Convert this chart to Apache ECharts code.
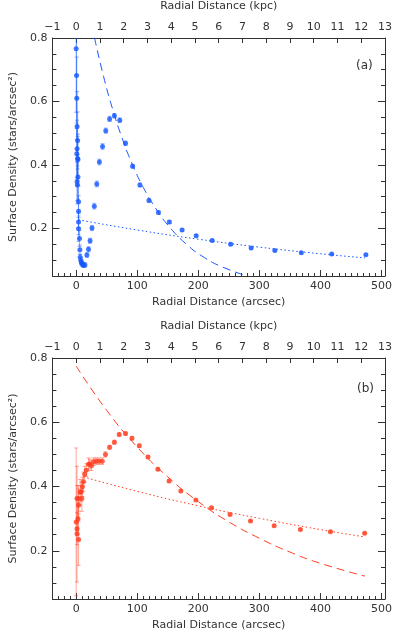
<!DOCTYPE html>
<html>
<head>
<meta charset="utf-8">
<script src="https://cdn.jsdelivr.net/npm/echarts@6/dist/echarts.min.js"></script>
<style>
html, body { margin: 0; padding: 0; background: #fff; }
#chart { width: 395px; height: 633px; }
</style>
</head>
<body>
<div id="chart"></div>
<script>
// 面板 (a)：半径 (arcsec)、面密度、误差
var aRadius = [0, 0.6, 1.0, 1.5, 2.4, 1.5, 1.0, 3.0, 2.4, 3.0, 1.5, 2.0, 3.9, 3.9, 3.9, 3.9, 5.5, 6.1, 6.6, 7.8,
    8.6, 10.2, 11.8, 14.4, 17.6, 20.2, 22.8, 25.9, 29.7, 33.8, 38.0, 43.2, 48.5, 54.8, 62.6, 71.4, 80.9, 92.5,
    104.4, 119.2, 134.8, 152.6, 173.5, 196.5, 222.7, 253.0, 286.5, 325.3, 368.7, 418.4, 474.4];
var aDensity = [0.766, 0.682, 0.610, 0.521, 0.477, 0.451, 0.435, 0.417, 0.420, 0.362, 0.347, 0.337, 0.284, 0.253,
    0.220, 0.199, 0.168, 0.133, 0.109, 0.099, 0.092, 0.088, 0.084, 0.085, 0.116, 0.134, 0.161, 0.201, 0.270,
    0.340, 0.409, 0.458, 0.508, 0.545, 0.555, 0.541, 0.468, 0.396, 0.337, 0.288, 0.250, 0.220, 0.195, 0.177,
    0.162, 0.150, 0.138, 0.130, 0.123, 0.119, 0.117];
var aError = [0.2, 0.15, 0.13, 0.11, 0.09, 0.09, 0.08, 0.08, 0.07, 0.07, 0.06, 0.06, 0.05, 0.05, 0.04, 0.04,
    0.025, 0.015, 0.01, 0.01, 0.008, 0.008, 0.007, 0.007, 0.007, 0.008, 0.008, 0.008, 0.009, 0.009, 0.009,
    0.009, 0.008, 0.008, 0.007, 0.007, 0.007, 0.006, 0.006, 0.005, 0.005, 0.005, 0.004, 0.004, 0.004, 0.004,
    0.003, 0.003, 0.003, 0.003, 0.003];
// 面板 (a) 拟合曲线
var aDashR = [30, 45, 60, 75, 90, 110, 130, 150, 180, 210, 240, 280];
var aDashV = [0.801, 0.678, 0.574, 0.486, 0.411, 0.329, 0.264, 0.211, 0.151, 0.108, 0.078, 0.050];
var aDotR = [4, 100, 200, 300, 400, 473];
var aDotV = [0.227, 0.195, 0.166, 0.141, 0.120, 0.107];

// 面板 (b)
var bRadius = [0, 1.4, 4.0, 1.4, 3.0, 4.0, 1.4, 4.0, 6.6, 9.3, 8.2, 10.2, 11.8, 14.0, 16.5, 20.2, 22.3, 25.0,
    28.6, 32.8, 37.5, 42.7, 48.0, 54.8, 62.6, 70.5, 80.9, 91.4, 103.4, 117.6, 133.8, 152.1, 171.4, 196.0,
    221.7, 252.0, 285.5, 324.2, 367.2, 416.4, 472.4];
var bDensity = [0.290, 0.253, 0.235, 0.269, 0.300, 0.342, 0.363, 0.363, 0.382, 0.363, 0.384, 0.399, 0.415,
    0.438, 0.451, 0.469, 0.470, 0.465, 0.477, 0.479, 0.479, 0.479, 0.500, 0.522, 0.538, 0.562, 0.565, 0.550,
    0.527, 0.492, 0.454, 0.417, 0.386, 0.358, 0.334, 0.313, 0.293, 0.278, 0.266, 0.259, 0.255];
var bError = [0.23, 0.15, 0.08, 0.05, 0.05, 0.05, 0.1, 0.04, 0.04, 0.04, 0.03, 0.03, 0.03, 0.025, 0.02, 0.02,
    0.015, 0.015, 0.012, 0.01, 0.01, 0.01, 0.008, 0.006, 0.006, 0.005, 0.005, 0.005, 0.005, 0.004, 0.004,
    0.004, 0.004, 0.003, 0.003, 0.003, 0.003, 0.003, 0.003, 0.003, 0.003];
var bDashR = [0, 50, 100, 150, 200, 250, 300, 350, 400, 473];
var bDashV = [0.775, 0.637, 0.523, 0.430, 0.353, 0.290, 0.239, 0.196, 0.161, 0.121];
var bDotR = [12, 100, 200, 300, 400, 473];
var bDotV = [0.430, 0.385, 0.340, 0.301, 0.266, 0.243];

// 刻度
var arcsecLabels = [0, 100, 200, 300, 400, 500];
var arcsecMinor = [-30, -20, -10, 10, 20, 30, 40, 50, 60, 70, 80, 90, 110, 120, 130, 140, 150, 160, 170, 180, 190,
    210, 220, 230, 240, 250, 260, 270, 280, 290, 310, 320, 330, 340, 350, 360, 370, 380, 390,
    410, 420, 430, 440, 450, 460, 470, 480, 490];
var densityLabels = [0.2, 0.4, 0.6, 0.8];
var densityMinor = [0.1, 0.15, 0.25, 0.3, 0.35, 0.45, 0.5, 0.55, 0.65, 0.7, 0.75];

var X_MIN = -38.9, X_MAX = 505.7, Y_MIN = 0.05, Y_MAX = 0.8;
var BLUE = '#1456ff', RED = '#ff3c1e';
var FONT = 'DejaVu Sans';
var TXT = { fontFamily: FONT, fontSize: 11, color: '#333' };

var chart = echarts.init(document.getElementById('chart'));

function zip(xs, ys) {
    return xs.map(function (x, i) { return [x, ys[i]]; });
}
function errData(xs, ys, es) {
    return xs.map(function (x, i) { return [x, ys[i] - es[i], ys[i] + es[i]]; });
}
// 误差棒
function errRender(color) {
    return function (params, api) {
        var x = api.value(0), lo = api.value(1), hi = api.value(2);
        var capTop = hi <= Y_MAX, capBot = lo >= Y_MIN;
        hi = Math.min(hi, Y_MAX);
        lo = Math.max(lo, Y_MIN);
        var p1 = api.coord([x, hi]), p2 = api.coord([x, lo]);
        var st = { stroke: color, lineWidth: 1 };
        var kids = [{ type: 'line', shape: { x1: p1[0], y1: p1[1], x2: p2[0], y2: p2[1] }, style: st }];
        if (capTop) kids.push({ type: 'line', shape: { x1: p1[0] - 2, y1: p1[1], x2: p1[0] + 2, y2: p1[1] }, style: st });
        if (capBot) kids.push({ type: 'line', shape: { x1: p2[0] - 2, y1: p2[1], x2: p2[0] + 2, y2: p2[1] }, style: st });
        return { type: 'group', children: kids };
    };
}

var grids = [], xAxes = [], yAxes = [], series = [];
var line = { show: true, onZero: false, lineStyle: { color: '#333', width: 1 } };
var noLine = { show: false, onZero: false };

function panel(g, top, r, d, e, dashR, dashV, dotR, dotV, color, errColor) {
    grids.push({ left: 42, top: top, width: 347, height: 241 });
    // 底部 arcsec 轴
    xAxes.push({
        type: 'value', gridIndex: g, position: 'bottom', min: X_MIN, max: X_MAX,
        axisLine: line, splitLine: { show: false },
        axisTick: { inside: true, length: 6, customValues: arcsecLabels, lineStyle: { color: '#333' } },
        axisLabel: Object.assign({ customValues: arcsecLabels, margin: 5 }, TXT),
        name: 'Radial Distance (arcsec)', nameLocation: 'middle', nameGap: 21, nameTextStyle: TXT
    });
    xAxes.push({
        type: 'value', gridIndex: g, position: 'bottom', min: X_MIN, max: X_MAX,
        axisLine: noLine, splitLine: { show: false }, axisLabel: { show: false },
        axisTick: { inside: true, length: 3, customValues: arcsecMinor, lineStyle: { color: '#333' } }
    });
    // 顶部 kpc 轴
    xAxes.push({
        type: 'value', gridIndex: g, position: 'top', min: -1, max: 13, interval: 1,
        axisLine: line, splitLine: { show: false },
        axisTick: { inside: true, length: 5, lineStyle: { color: '#333' } },
        axisLabel: Object.assign({
            margin: 5, formatter: function (v) { return String(v).replace('-', '\u2212'); }
        }, TXT),
        name: 'Radial Distance (kpc)', nameLocation: 'middle', nameGap: 26, nameTextStyle: TXT
    });
    // y 轴：左右主刻度 + 次刻度
    yAxes.push({
        type: 'value', gridIndex: g, position: 'left', min: Y_MIN, max: Y_MAX,
        axisLine: line, splitLine: { show: false },
        axisTick: { inside: true, length: 7, customValues: densityLabels, lineStyle: { color: '#333' } },
        axisLabel: Object.assign({ customValues: densityLabels, margin: 5 }, TXT),
        name: 'Surface Density (stars/arcsec\u00b2)', nameLocation: 'middle', nameGap: 30, nameTextStyle: TXT
    });
    yAxes.push({
        type: 'value', gridIndex: g, position: 'left', min: Y_MIN, max: Y_MAX,
        axisLine: noLine, splitLine: { show: false }, axisLabel: { show: false },
        axisTick: { inside: true, length: 4, customValues: densityMinor, lineStyle: { color: '#333' } }
    });
    yAxes.push({
        type: 'value', gridIndex: g, position: 'right', min: Y_MIN, max: Y_MAX,
        axisLine: line, splitLine: { show: false }, axisLabel: { show: false },
        axisTick: { inside: true, length: 7, customValues: densityLabels, lineStyle: { color: '#333' } }
    });
    yAxes.push({
        type: 'value', gridIndex: g, position: 'right', min: Y_MIN, max: Y_MAX,
        axisLine: noLine, splitLine: { show: false }, axisLabel: { show: false },
        axisTick: { inside: true, length: 4, customValues: densityMinor, lineStyle: { color: '#333' } }
    });
    var xi = g * 3, yi = g * 4;
    series.push({
        type: 'custom', xAxisIndex: xi, yAxisIndex: yi, renderItem: errRender(errColor),
        data: errData(r, d, e), encode: { x: 0, y: [1, 2] }, silent: true, z: 2
    });
    series.push({
        type: 'scatter', xAxisIndex: xi, yAxisIndex: yi, data: zip(r, d),
        symbolSize: 5, itemStyle: { color: color }, z: 3
    });
    series.push({
        type: 'line', xAxisIndex: xi, yAxisIndex: yi, data: zip(dashR, dashV), smooth: true,
        showSymbol: false, lineStyle: { color: color, width: 1, type: [8, 5] }, z: 4
    });
    series.push({
        type: 'line', xAxisIndex: xi, yAxisIndex: yi, data: zip(dotR, dotV), smooth: true,
        showSymbol: false, lineStyle: { color: color, width: 1, type: [1.5, 2.5] }, z: 4
    });
}

panel(0, 35, aRadius, aDensity, aError, aDashR, aDashV, aDotR, aDotV, BLUE, 'rgba(20,86,255,0.45)');
panel(1, 358, bRadius, bDensity, bError, bDashR, bDashV, bDotR, bDotV, RED, 'rgba(255,60,30,0.45)');

chart.setOption({
    animation: false,
    grid: grids,
    xAxis: xAxes,
    yAxis: yAxes,
    series: series,
    graphic: [
        { type: 'text', left: 356, top: 60, style: { text: '(a)', font: '12px "DejaVu Sans"', fill: '#333' } },
        { type: 'text', left: 357, top: 383, style: { text: '(b)', font: '12px "DejaVu Sans"', fill: '#333' } }
    ]
});
</script>
</body>
</html>
